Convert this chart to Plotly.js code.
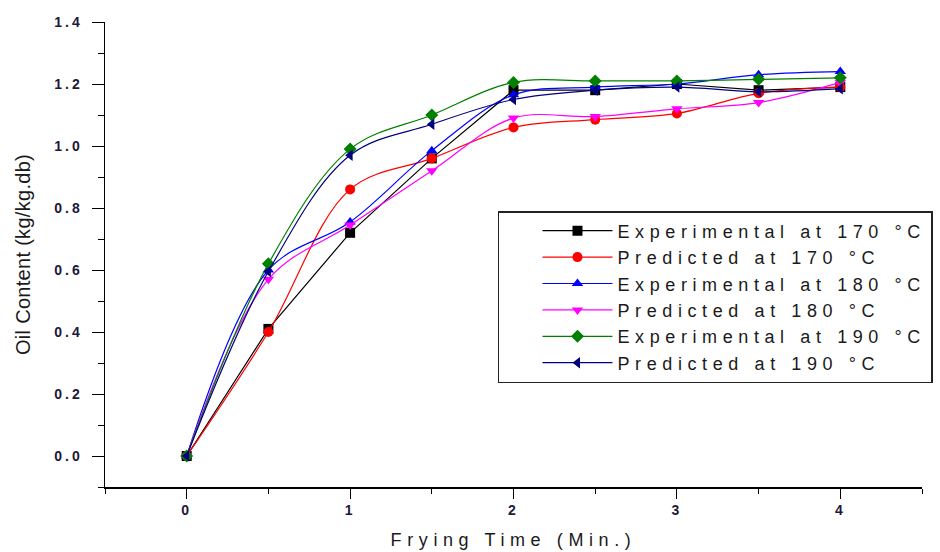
<!DOCTYPE html>
<html>
<head>
<meta charset="utf-8">
<script src="https://cdn.plot.ly/plotly-3.0.1.min.js"></script>
<style>
  html, body { margin: 0; padding: 0; background: #fff; }
  #chart { width: 940px; height: 552px; }
  .legendtext { letter-spacing: 5.6px; }
  .xtitle { letter-spacing: 5.6px; }
  .ytitle { letter-spacing: 0.3px; }
  .xtick text, .ytick text { letter-spacing: 3px; }
</style>
</head>
<body>
<div id="chart"></div>
<script>
// Frying time (min)
const fryingTime = [0, 0.5, 1, 1.5, 2, 2.5, 3, 3.5, 4];

// Oil content (kg/kg.db)
const exp170  = [0, 0.41, 0.72, 0.96, 1.18, 1.18, 1.20, 1.18, 1.19];
const pred170 = [0, 0.40, 0.86, 0.96, 1.06, 1.085, 1.105, 1.17, 1.19];
const exp180  = [0, 0.60, 0.755, 0.985, 1.165, 1.19, 1.20, 1.23, 1.24];
const pred180 = [0, 0.57, 0.745, 0.92, 1.09, 1.095, 1.12, 1.14, 1.205];
const exp190  = [0, 0.62, 0.99, 1.10, 1.205, 1.21, 1.21, 1.215, 1.22];
const pred190 = [0, 0.595, 0.97, 1.07, 1.15, 1.18, 1.19, 1.175, 1.185];

const seriesNames = [
  'Experimental at 170 °C',
  'Predicted at 170 °C',
  'Experimental at 180 °C',
  'Predicted at 180 °C',
  'Experimental at 190 °C',
  'Predicted at 190 °C'
];

const xTickVals = [0, 1, 2, 3, 4];
const yTickVals = [0, 0.2, 0.4, 0.6, 0.8, 1.0, 1.2, 1.4];

const seriesValues = [exp170, pred170, exp180, pred180, exp190, pred190];
const colors = ['#000000', '#ff0000', '#0000ff', '#ff00ff', '#008000', '#000080'];
const symbols = ['square', 'circle', 'triangle-up', 'triangle-down', 'diamond', 'triangle-left'];
const shapes = ['linear', 'spline', 'spline', 'spline', 'spline', 'spline'];

const traces = seriesValues.map((vals, i) => ({
  x: fryingTime,
  y: vals,
  name: seriesNames[i],
  type: 'scatter',
  mode: 'lines+markers',
  line: { color: colors[i], width: 1.2, shape: shapes[i], smoothing: 1 },
  marker: { color: colors[i], symbol: symbols[i], size: 10 }
}));

const FONT = 'Arial, Liberation Sans, sans-serif';
const tickFont = { family: FONT, size: 14, color: '#1e1838', weight: 'bold' };

const layout = {
  width: 940,
  height: 552,
  paper_bgcolor: '#ffffff',
  plot_bgcolor: '#ffffff',
  margin: { l: 105, r: 18, t: 22, b: 65, autoexpand: false },
  showlegend: true,
  legend: {
    x: 0.481, y: 0.5935, xanchor: 'left', yanchor: 'top',
    bordercolor: '#222', borderwidth: 1.5, bgcolor: '#ffffff',
    font: { family: FONT, size: 18, color: '#1a1a1a' },
    itemwidth: 70,
    indentation: 38,
    tracegroupgap: 0
  },
  xaxis: {
    range: [-0.5, 4.5],
    tickvals: xTickVals,
    ticktext: xTickVals.map(String),
    ticks: 'outside', ticklen: 10, tickwidth: 1, tickcolor: '#000',
    minor: { dtick: 0.5, tick0: 0, ticks: 'outside', ticklen: 5, tickcolor: '#000', showgrid: false },
    showline: true, linecolor: '#000', linewidth: 1.5,
    showgrid: false, zeroline: false,
    tickfont: tickFont,
    title: { text: 'Frying Time (Min.)', font: { family: FONT, size: 18, color: '#1a1a1a' }, standoff: 16 }
  },
  yaxis: {
    range: [-0.1, 1.4],
    tickvals: yTickVals,
    ticktext: yTickVals.map(v => v.toFixed(1)),
    ticks: 'outside', ticklen: 12, tickwidth: 1, tickcolor: '#000',
    minor: { dtick: 0.1, tick0: 0, ticks: 'outside', ticklen: 6, tickcolor: '#000', showgrid: false },
    showline: true, linecolor: '#000', linewidth: 1.5,
    showgrid: false, zeroline: false,
    ticklabelstandoff: 6,
    tickfont: tickFont,
    title: { text: 'Oil Content (kg/kg.db)', font: { family: FONT, size: 20, color: '#1a1a1a' }, standoff: 18 }
  }
};

Plotly.newPlot('chart', traces, layout, { displayModeBar: false, staticPlot: true });
</script>
</body>
</html>
